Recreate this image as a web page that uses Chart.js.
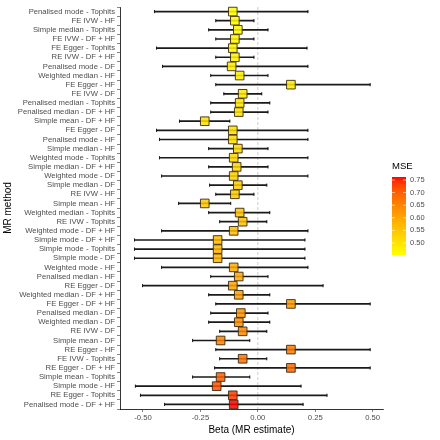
<!DOCTYPE html>
<html><head><meta charset="utf-8">
<script src="https://cdn.jsdelivr.net/npm/chart.js@4.4.1/dist/chart.umd.min.js"></script>
<style>html,body{margin:0;padding:0;background:#fff;}#wrap{width:440px;height:440px;}</style>
</head><body><div id="wrap"><canvas id="c" width="440" height="440"></canvas></div>
<script>
const methods = [
  'Penalised mode - Tophits','FE IVW - HF','Simple median - Tophits','FE IVW - DF + HF',
  'FE Egger - Tophits','RE IVW - DF + HF','Penalised mode - DF','Weighted median - HF',
  'FE Egger - HF','FE IVW - DF','Penalised median - Tophits','Penalised median - DF + HF',
  'Simple mean - DF + HF','FE Egger - DF','Penalised mode - HF','Simple median - HF',
  'Weighted mode - Tophits','Simple median - DF + HF','Weighted mode - DF','Simple median - DF',
  'RE IVW - HF','Simple mean - HF','Weighted median - Tophits','RE IVW - Tophits',
  'Weighted mode - DF + HF','Simple mode - DF + HF','Simple mode - Tophits','Simple mode - DF',
  'Weighted mode - HF','Penalised median - HF','RE Egger - DF','Weighted median - DF + HF',
  'FE Egger - DF + HF','Penalised median - DF','Weighted median - DF','RE IVW - DF',
  'Simple mean - DF','RE Egger - HF','FE IVW - Tophits','RE Egger - DF + HF',
  'Simple mean - Tophits','Simple mode - HF','RE Egger - Tophits','Penalised mode - DF + HF'
];
const estimate = [
  -0.109,-0.100,-0.087,-0.100,-0.109,-0.100,-0.114,-0.079,
   0.144,-0.066,-0.079,-0.083,-0.231,-0.109,-0.109,-0.087,
  -0.105,-0.092,-0.105,-0.087,-0.100,-0.231,-0.079,-0.066,
  -0.105,-0.175,-0.175,-0.175,-0.105,-0.083,-0.109,-0.083,
   0.144,-0.074,-0.083,-0.066,-0.162, 0.144,-0.066, 0.144,
  -0.162,-0.179,-0.109,-0.105
];
const lower = [
  -0.450,-0.183,-0.214,-0.183,-0.441,-0.183,-0.415,-0.205,
  -0.183,-0.148,-0.205,-0.205,-0.341,-0.441,-0.428,-0.214,
  -0.428,-0.214,-0.419,-0.210,-0.183,-0.345,-0.214,-0.166,
  -0.419,-0.537,-0.537,-0.537,-0.419,-0.205,-0.502,-0.214,
  -0.183,-0.205,-0.214,-0.166,-0.284,-0.183,-0.166,-0.188,
  -0.284,-0.533,-0.511,-0.406
];
const upper = [
   0.218,-0.017, 0.044,-0.017, 0.214,-0.017, 0.218, 0.044,
   0.489, 0.017, 0.052, 0.044,-0.122, 0.218, 0.218, 0.044,
   0.218, 0.044, 0.218, 0.039,-0.017,-0.118, 0.052, 0.039,
   0.218, 0.205, 0.205, 0.205, 0.218, 0.044, 0.284, 0.052,
   0.489, 0.044, 0.052, 0.039,-0.035, 0.489, 0.039, 0.489,
  -0.035, 0.188, 0.301, 0.197
];
const mse = [
  0.452,0.458,0.463,0.466,0.471,0.474,0.479,0.483,0.488,0.491,0.495,
  0.499,0.503,0.508,0.512,0.517,0.522,0.526,0.531,0.536,0.541,0.545,
  0.551,0.556,0.562,0.569,0.575,0.582,0.589,0.596,0.603,0.611,0.619,
  0.627,0.636,0.645,0.655,0.666,0.677,0.689,0.702,0.716,0.738,0.762
];
const xTickValues = [-0.5,-0.25,0,0.25,0.5];
const xTickLabels = ['-0.50','-0.25','0.00','0.25','0.50'];
const mseTickValues = [0.50,0.55,0.60,0.65,0.70,0.75];
const mseTickLabels = ['0.50','0.55','0.60','0.65','0.70','0.75'];
const referenceValue = 0;
const lowColor = [255,255,0];
const highColor = [255,0,0];

function toLin(c){c/=255;return c<=0.04045?c/12.92:Math.pow((c+0.055)/1.055,2.4);}
function fromLin(c){c=c<=0.0031308?12.92*c:1.055*Math.pow(c,1/2.4)-0.055;return Math.round(Math.max(0,Math.min(1,c))*255);}
function rgb2lab(rgb){
  const r=toLin(rgb[0]),g=toLin(rgb[1]),b=toLin(rgb[2]);
  let X=(0.4124*r+0.3576*g+0.1805*b)/0.95047,Y=(0.2126*r+0.7152*g+0.0722*b),Z=(0.0193*r+0.1192*g+0.9505*b)/1.08883;
  const f=t=>t>0.008856?Math.cbrt(t):7.787*t+16/116;
  const fx=f(X),fy=f(Y),fz=f(Z);
  return [116*fy-16,500*(fx-fy),200*(fy-fz)];
}
function lab2rgb(lab){
  const fy=(lab[0]+16)/116,fx=fy+lab[1]/500,fz=fy-lab[2]/200;
  const fi=t=>{const t3=t*t*t;return t3>0.008856?t3:(t-16/116)/7.787;};
  const X=fi(fx)*0.95047,Y=fi(fy),Z=fi(fz)*1.08883;
  const r=3.2406*X-1.5372*Y-0.4986*Z,g=-0.9689*X+1.8758*Y+0.0415*Z,b=0.0557*X-0.2040*Y+1.0570*Z;
  return [fromLin(r),fromLin(g),fromLin(b)];
}
const labLow=rgb2lab(lowColor),labHigh=rgb2lab(highColor);
const mseMin=Math.min(...mse),mseMax=Math.max(...mse);
function rgbFor(v){
  const t=Math.max(0,Math.min(1,(v-mseMin)/(mseMax-mseMin)));
  return lab2rgb([0,1,2].map(k=>labLow[k]+(labHigh[k]-labLow[k])*t));
}
function colorFor(v){const c=rgbFor(v);return 'rgb('+c[0]+','+c[1]+','+c[2]+')';}
const pointColors = mse.map(v=>{const c=rgbFor(v);return 'rgba('+c[0]+','+c[1]+','+c[2]+',0.85)';});

const FONT='"Liberation Sans", Arial, Helvetica, sans-serif';

const refLinePlugin = {
  id:'refLine',
  beforeDatasetsDraw(chart){
    const {ctx,chartArea}=chart; const x=chart.scales.x.getPixelForValue(referenceValue);
    ctx.save(); ctx.strokeStyle='#cccccc'; ctx.lineWidth=1; ctx.setLineDash([3,2]);
    ctx.beginPath(); ctx.moveTo(x,chartArea.top); ctx.lineTo(x,chartArea.bottom); ctx.stroke(); ctx.restore();
  }
};
const colorbarPlugin = {
  id:'colorbar',
  afterDraw(chart){
    const ctx=chart.ctx; const ca=chart.chartArea;
    const x0=ca.right+9, w=14, top=177, bottom=255, h=bottom-top;
    ctx.save();
    const grad=ctx.createLinearGradient(0,bottom,0,top);
    for(let i=0;i<=20;i++){const v=mseMin+(mseMax-mseMin)*i/20;grad.addColorStop(i/20,colorFor(v));}
    ctx.fillStyle=grad; ctx.fillRect(x0,top,w,h);
    ctx.font='7.5px '+FONT; ctx.fillStyle='#4d4d4d'; ctx.textAlign='left'; ctx.textBaseline='middle';
    mseTickValues.forEach((v,i)=>{
      const y=bottom-(v-mseMin)/(mseMax-mseMin)*h;
      ctx.strokeStyle='#ffffff'; ctx.lineWidth=0.6;
      ctx.beginPath(); ctx.moveTo(x0,y); ctx.lineTo(x0+3,y); ctx.moveTo(x0+w-3,y); ctx.lineTo(x0+w,y); ctx.stroke();
      ctx.fillText(mseTickLabels[i],x0+w+4,y);
    });
    ctx.font='9.5px '+FONT; ctx.fillStyle='#000'; ctx.textBaseline='middle';
    ctx.fillText('MSE',x0,166);
    ctx.restore();
  }
};

new Chart(document.getElementById('c'),{
  type:'bar',
  data:{
    labels:methods,
    datasets:[
      {type:'line',label:'estimate',data:estimate,indexAxis:'y',showLine:false,order:0,
       pointStyle:'rect',pointRadius:6.1,pointHoverRadius:6.1,pointBackgroundColor:pointColors,
       pointBorderColor:'#3a2a10',pointBorderWidth:0.9},
      {type:'line',label:'lowcap',data:lower,indexAxis:'y',showLine:false,order:1,
       pointStyle:'line',pointRotation:90,pointRadius:1.6,pointBorderColor:'#1a1a1a',pointBorderWidth:1},
      {type:'line',label:'highcap',data:upper,indexAxis:'y',showLine:false,order:1,
       pointStyle:'line',pointRotation:90,pointRadius:1.6,pointBorderColor:'#1a1a1a',pointBorderWidth:1},
      {type:'bar',label:'ci',data:lower.map((l,i)=>[l,upper[i]]),indexAxis:'y',order:2,
       barThickness:1,backgroundColor:'#1a1a1a',borderWidth:0}
    ]
  },
  options:{
    indexAxis:'y',responsive:false,animation:false,devicePixelRatio:1,
    layout:{padding:{top:7,right:57,bottom:0,left:0}},
    plugins:{legend:{display:false},tooltip:{enabled:false}},
    scales:{
      x:{type:'linear',position:'bottom',min:-0.60,max:0.545,
        afterBuildTicks:(s)=>{s.ticks=xTickValues.map(v=>({value:v}));},
        afterFit:(s)=>{s.height=31;},
        ticks:{callback:(v,i)=>xTickLabels[i],font:{family:FONT,size:7.7},color:'#4d4d4d',padding:1,maxRotation:0,autoSkip:false},
        grid:{display:true,drawOnChartArea:false,drawTicks:true,tickLength:3,color:'#333333',lineWidth:0.6},
        border:{display:true,color:'#000000',width:0.8},
        title:{display:true,text:'Beta (MR estimate)',font:{family:FONT,size:10},color:'#000',padding:{top:0,bottom:4}}
      },
      y:{type:'category',position:'left',offset:true,
        afterFit:(s)=>{s.width=120;},
        ticks:{font:{family:FONT,size:7.7},color:'#4d4d4d',padding:2,autoSkip:false},
        grid:{display:true,drawOnChartArea:false,drawTicks:true,tickLength:3,color:'#333333',lineWidth:0.6},
        border:{display:true,color:'#000000',width:0.8},
        title:{display:true,text:'MR method',font:{family:FONT,size:10},color:'#000',padding:{top:2,bottom:0}}
      }
    }
  },
  plugins:[refLinePlugin,colorbarPlugin]
});
</script></body></html>
